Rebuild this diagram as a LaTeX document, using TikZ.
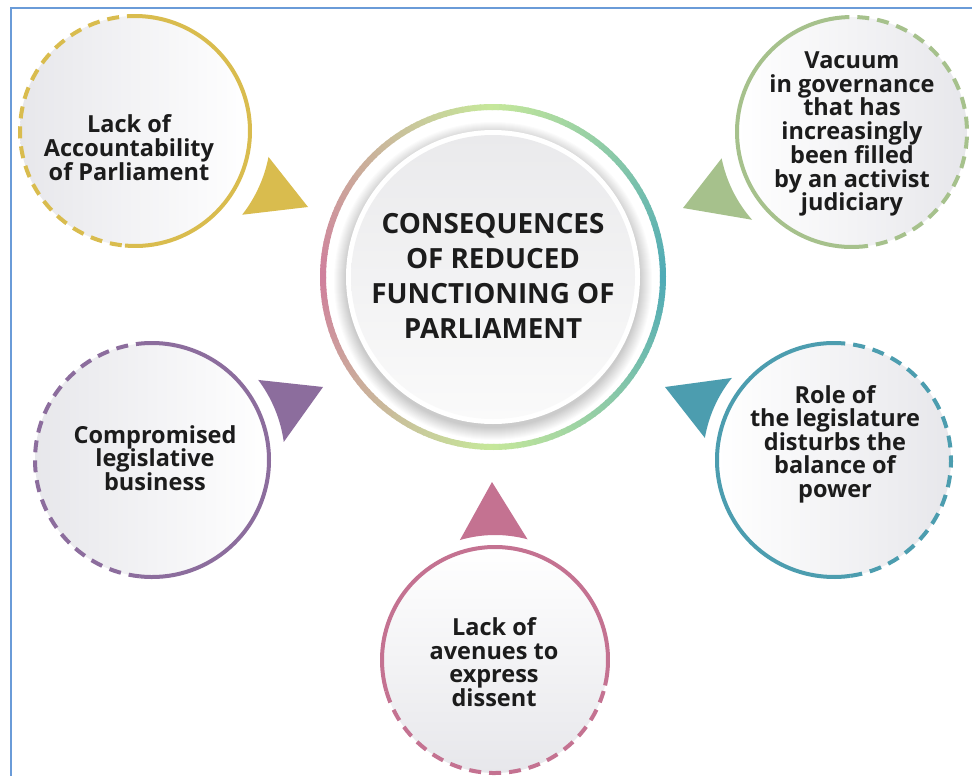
\documentclass[tikz,border=0pt]{standalone}
\usepackage{fontspec}
\setmainfont{Open Sans}
\usetikzlibrary{calc}
\definecolor{yel}{HTML}{D9BC4E}
\definecolor{grn}{HTML}{A6C18C}
\definecolor{pur}{HTML}{8C6D9D}
\definecolor{tea}{HTML}{4C9DAF}
\definecolor{pnk}{HTML}{C47291}
\definecolor{bord}{HTML}{6A9BD8}
\definecolor{ringR}{HTML}{4EAAB6}
\definecolor{ringTB}{HTML}{C6E89A}
\definecolor{ringL}{HTML}{CF7E9C}
\definecolor{txt}{HTML}{1C1C1C}
\definecolor{bubgray}{HTML}{E7E7EB}
\definecolor{disktop}{HTML}{EAEAEC}
\definecolor{diskbot}{HTML}{FAFAFA}
\begin{document}
\begin{tikzpicture}[x=1pt,y=1pt,
  bub/.style={circle, inner sep=0pt, minimum size=#1},
  solidarc/.style={line width=4pt},
  dasharc/.style={line width=4pt, dash pattern=on 12pt off 8pt},
  lbl/.style={align=center, text=txt, inner sep=0pt, font=\fontsize{23.5}{23.5}\selectfont\bfseries},
  mainlbl/.style={align=center, text=txt, inner sep=0pt, font=\fontsize{27.8}{35}\selectfont\bfseries}]
\useasboundingbox (0,0) rectangle (972,-776);
\fill[white] (0,0) rectangle (972,-776);
% frame
\coordinate (f1) at (11,-776);
\coordinate (f2) at (11,-8);
\coordinate (f3) at (972,-8);
\draw[bord, line width=2pt] (f1) -- (f2) -- (f3);

% ---------- central circle ----------
\node[bub=340pt] (M) at (493,-277) {};
\foreach \i in {0,...,12}{
  \fill[black, opacity=0.014] ($(M.center)+(0,-4)$) circle[radius=147+\i];
}
\fill[white] (M.center) circle[radius=147];
\shade[top color=disktop, bottom color=diskbot] (M.center) circle[radius=142];
\foreach \a in {0,2,...,358}{
  \pgfmathtruncatemacro\dd{min(\a+1,359-\a)}
  \ifnum\dd<90
    \pgfmathtruncatemacro\pp{\dd/90*100}
    \colorlet{rc}{ringTB!\pp!ringR}
  \else
    \pgfmathtruncatemacro\pp{(\dd-90)/90*100}
    \colorlet{rc}{ringL!\pp!ringTB}
  \fi
  \draw[rc, line width=6pt] ([shift={(\a:170)}]M.center) arc[start angle=\a, end angle=\a+2.5, radius=170];
}
\node[mainlbl] (Mt) at (493,-276) {CONSEQUENCES\\OF REDUCED\\FUNCTIONING OF\\PARLIAMENT};

% ---------- yellow (top left) ----------
\node[bub=230pt, left color=bubgray, right color=white] (Y) at (135,-131) {};
\draw[yel, solidarc] ([shift={(-95:115)}]Y.center) arc[start angle=-95, end angle=88, radius=115];
\draw[yel, dasharc] ([shift={(88:115)}]Y.center) arc[start angle=88, end angle=265, radius=115];
\coordinate (Ytip) at (308,-207);
\fill[yel] (Ytip) -- ([shift={(-11:136)}]Y.center) arc[start angle=-11, end angle=-38, radius=136] -- cycle;
\node[lbl] (Yt) at (129,-148) {Lack of\\Accountability\\of Parliament};

% ---------- green (top right) ----------
\node[bub=230pt, left color=white, right color=bubgray] (G) at (852,-132) {};
\draw[grn, solidarc] ([shift={(92:115)}]G.center) arc[start angle=92, end angle=272, radius=115];
\draw[grn, dasharc] ([shift={(-88:115)}]G.center) arc[start angle=-88, end angle=92, radius=115];
\coordinate (Gtip) at (683,-208);
\fill[grn] (Gtip) -- ([shift={(191.4:133)}]G.center) arc[start angle=191.4, end angle=221.3, radius=133] -- cycle;
\node[lbl] (Gt) at (852,-134) {Vacuum\\in governance\\that has\\increasingly\\been filled\\by an activist\\judiciary};

% ---------- purple (left) ----------
\node[bub=234pt, left color=bubgray, right color=white] (P) at (152,-460) {};
\draw[pur, solidarc] ([shift={(-96:117)}]P.center) arc[start angle=-96, end angle=92, radius=117];
\draw[pur, dasharc] ([shift={(92:117)}]P.center) arc[start angle=92, end angle=264, radius=117];
\coordinate (Ptip) at (323,-387);
\fill[pur] (Ptip) -- ([shift={(37:133)}]P.center) arc[start angle=37, end angle=7.8, radius=133] -- cycle;
\node[lbl] (Pt) at (155,-458) {Compromised\\legislative\\business};

% ---------- teal (right) ----------
\node[bub=234pt, left color=white, right color=bubgray] (T) at (834,-460) {};
\draw[tea, solidarc] ([shift={(88:117)}]T.center) arc[start angle=88, end angle=278, radius=117];
\draw[tea, dasharc] ([shift={(-82:117)}]T.center) arc[start angle=-82, end angle=88, radius=117];
\coordinate (Ttip) at (665,-387);
\fill[tea] (Ttip) -- ([shift={(141.2:131)}]T.center) arc[start angle=141.2, end angle=170.3, radius=131] -- cycle;
\node[lbl] (Tt) at (835,-444) {Role of\\the legislature\\disturbs the\\balance of\\power};

% ---------- pink (bottom) ----------
\node[bub=226pt, top color=white, bottom color=bubgray] (K) at (495,-660) {};
\draw[pnk, solidarc] ([shift={(-13:113)}]K.center) arc[start angle=-13, end angle=196, radius=113];
\draw[pnk, dasharc] ([shift={(196:113)}]K.center) arc[start angle=196, end angle=347, radius=113];
\coordinate (Ktip) at (492,-482);
\fill[pnk] (Ktip) -- ([shift={(106.3:125)}]K.center) arc[start angle=106.3, end angle=74.9, radius=125] -- cycle;
\node[lbl] (Kt) at (494,-662) {Lack of\\avenues to\\express\\dissent};
\end{tikzpicture}
\end{document}
